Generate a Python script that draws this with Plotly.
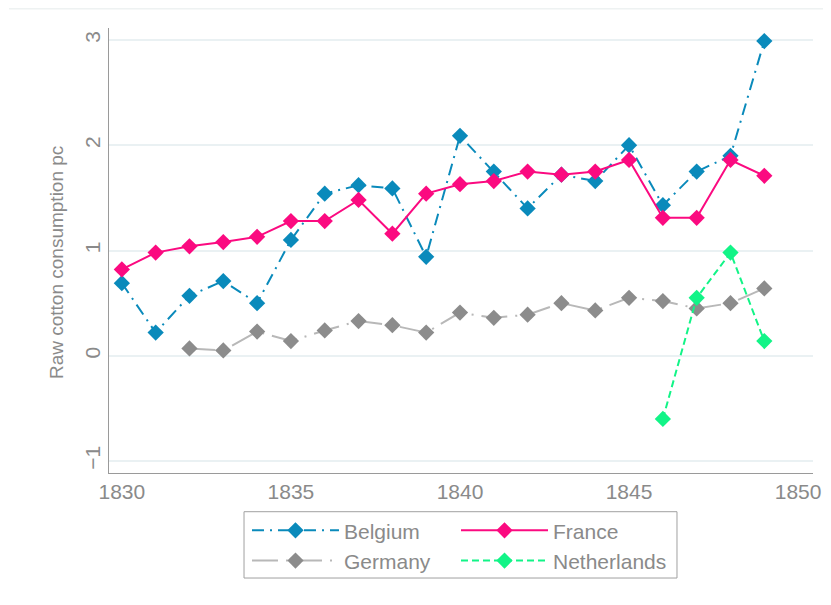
import plotly.graph_objects as go

years = list(range(1830, 1850))

belgium = [0.69, 0.22, 0.57, 0.71, 0.50, 1.10, 1.54, 1.62, 1.59, 0.94,
           2.09, 1.75, 1.40, 1.72, 1.66, 2.00, 1.43, 1.75, 1.90, 2.99]
france = [0.82, 0.98, 1.04, 1.08, 1.13, 1.28, 1.28, 1.48, 1.16, 1.54,
          1.63, 1.66, 1.75, 1.72, 1.75, 1.86, 1.31, 1.31, 1.86, 1.71]
germany_years = list(range(1832, 1850))
germany = [0.07, 0.05, 0.23, 0.14, 0.24, 0.33, 0.29, 0.22, 0.41, 0.36,
           0.39, 0.50, 0.43, 0.55, 0.52, 0.45, 0.50, 0.64]
nl_years = [1846, 1847, 1848, 1849]
netherlands = [-0.60, 0.55, 0.98, 0.14]

x_ticks = [1830, 1835, 1840, 1845, 1850]
y_ticks = [-1, 0, 1, 2, 3]

FONT = "Liberation Sans, Arial, sans-serif"
GREY_TXT = "#8a8a8a"

def GetLine(x, y, name, line_color, marker_color, dash, legend):
    return go.Scatter(x=x, y=y, name=name, mode='lines+markers',
        line=dict(color=line_color, width=2, dash=dash),
        marker=dict(symbol='diamond', size=12.5, color=marker_color),
        legend=legend)

fig = go.Figure()
fig.add_trace(GetLine(years, belgium, 'Belgium', '#0a8abb', '#0a8abb', '12px,6px,2px,6px', 'legend'))
fig.add_trace(GetLine(germany_years, germany, 'Germany', '#b8b8b8', '#8c8c8c', '26px,8px,2px,8px', 'legend'))
fig.add_trace(GetLine(years, france, 'France', '#fb0a80', '#fb0a80', 'solid', 'legend2'))
fig.add_trace(GetLine(nl_years, netherlands, 'Netherlands', '#12f487', '#12f487', '7px,4px', 'legend2'))

legend_style = dict(yanchor='top', xanchor='left', itemwidth=87,
                    font=dict(family=FONT, size=21, color=GREY_TXT),
                    bgcolor='rgba(0,0,0,0)', borderwidth=0, tracegroupgap=0)

# the page body adds an 8px offset, so margins are shifted to keep the plot area in place
fig.update_layout(
    width=831, height=605,
    paper_bgcolor='white', plot_bgcolor='white',
    margin=dict(l=101, r=26, t=20, b=140),
    font=dict(family=FONT, size=21, color=GREY_TXT),
    legend=dict(x=0.196, y=-0.0835, **legend_style),
    legend2=dict(x=0.4929, y=-0.0835, **legend_style),
    xaxis=dict(range=[1829.62, 1850.44], tickvals=x_ticks, showgrid=False,
               zeroline=False, showline=True, linecolor='#9a9a9a', linewidth=1,
               ticks='', tickfont=dict(size=21, color=GREY_TXT)),
    yaxis=dict(range=[-1.114, 3.114], tickvals=y_ticks, tickangle=-90,
               showgrid=True, gridcolor='#eaf1f3', gridwidth=1.5,
               zeroline=False, showline=True, linecolor='#9a9a9a', linewidth=1,
               ticks='', tickfont=dict(size=21, color=GREY_TXT)),
    annotations=[
        dict(text='Raw cotton consumption pc', textangle=-90, xref='paper', yref='paper',
             x=-0.0753, y=0.474, xanchor='center', yanchor='middle', showarrow=False,
             font=dict(family=FONT, size=19, color=GREY_TXT)),
    ],
    shapes=[
        # legend frame
        dict(type='rect', xref='paper', yref='paper', x0=0.1918, x1=0.8068,
             y0=-0.236, y1=-0.087, line=dict(color='#a0a0a0', width=1)),
        # faint outer frame line at top
        dict(type='line', xref='paper', yref='paper', x0=-0.142, x1=1.05,
             y0=1.0433, y1=1.0433, line=dict(color='#eef2f2', width=1.5)),
    ],
)

fig.write_html("out.html")
